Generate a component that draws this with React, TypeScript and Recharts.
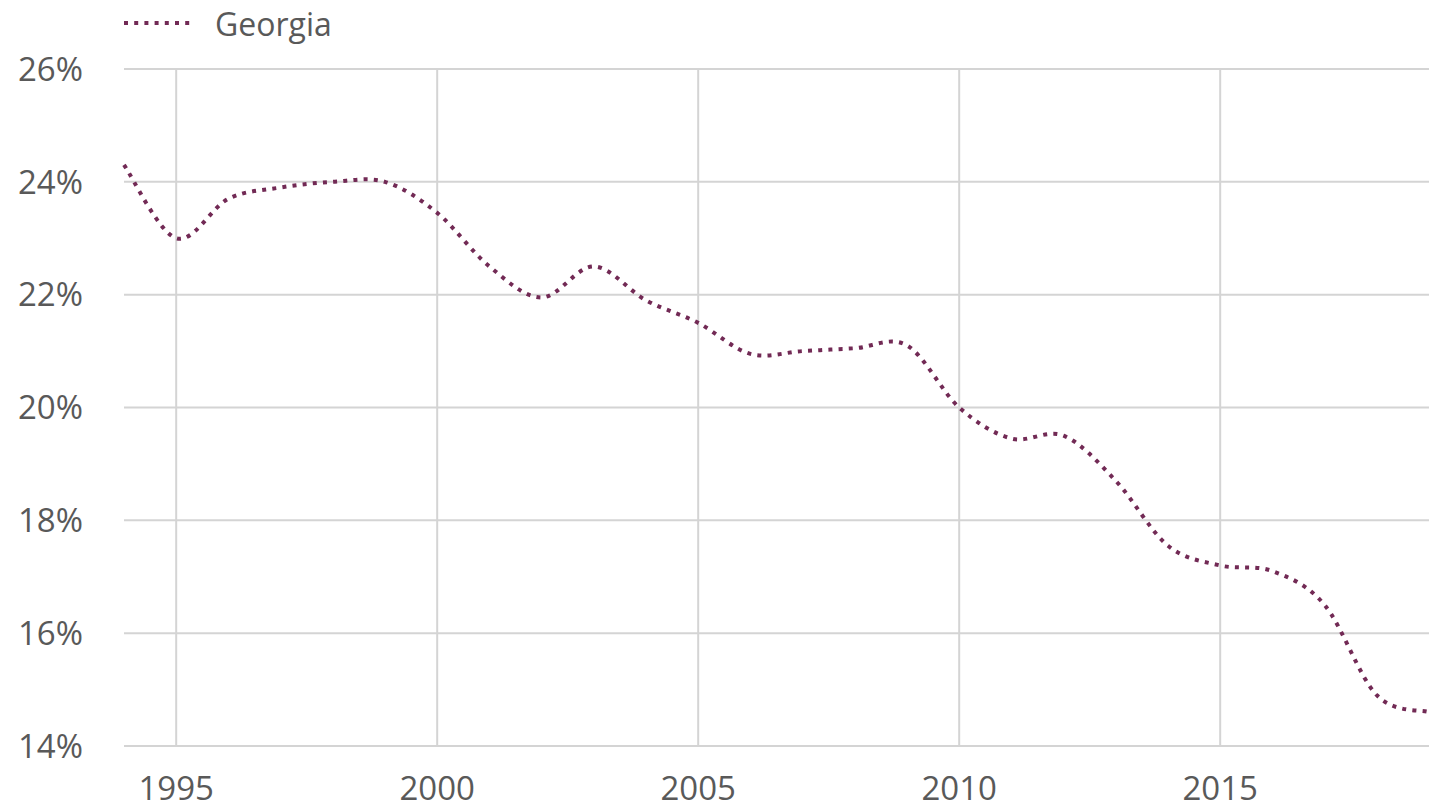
import { LineChart, Line, XAxis, YAxis, Legend, ReferenceLine } from "recharts";

const years = [
  1994, 1995, 1996, 1997, 1998, 1999, 2000, 2001, 2002, 2003, 2004, 2005, 2006,
  2007, 2008, 2009, 2010, 2011, 2012, 2013, 2014, 2015, 2016, 2017, 2018, 2019,
];
const georgia = [
  24.3, 23.0, 23.7, 23.9, 24.0, 24.0, 23.45, 22.5, 21.95, 22.5, 21.9, 21.5, 20.95,
  21.0, 21.05, 21.1, 20.0, 19.45, 19.5, 18.7, 17.55, 17.2, 17.1, 16.5, 14.9, 14.6,
];
const xTicks = [1995, 2000, 2005, 2010, 2015];
const yTicks = [14, 16, 18, 20, 22, 24, 26];

const data = years.map((year, i) => ({ year, georgia: georgia[i] }));

const COLOR = "#722a55";
const GRID = "#d4d4d4";
const FONT = "'Open Sans', sans-serif";
const TEXT = "#595959";

// Catmull-Rom style smoothing, close to the spreadsheet "smoothed line"
function smoothCurve(context: any) {
  let pts: [number, number][] = [];
  return {
    areaStart() {},
    areaEnd() {},
    lineStart() {
      pts = [];
    },
    point(x: number, y: number) {
      pts.push([+x, +y]);
    },
    lineEnd() {
      if (!pts.length) return;
      context.moveTo(pts[0][0], pts[0][1]);
      for (let i = 0; i < pts.length - 1; i++) {
        const p0 = pts[Math.max(i - 1, 0)];
        const p1 = pts[i];
        const p2 = pts[i + 1];
        const p3 = pts[Math.min(i + 2, pts.length - 1)];
        context.bezierCurveTo(
          p1[0] + (p2[0] - p0[0]) / 6,
          p1[1] + (p2[1] - p0[1]) / 6,
          p2[0] - (p3[0] - p1[0]) / 6,
          p2[1] - (p3[1] - p1[1]) / 6,
          p2[0],
          p2[1]
        );
      }
    },
  };
}

function GeorgiaLegend() {
  return (
    <div style={{ height: 40, display: "flex", alignItems: "center", fontFamily: FONT }}>
      <svg width={70} height={10} style={{ marginRight: 22 }}>
        <line x1={1} y1={5} x2={70} y2={5} stroke={COLOR} strokeWidth={4} strokeDasharray="4 6.2" />
      </svg>
      <span style={{ fontSize: 32, color: TEXT }}>Georgia</span>
    </div>
  );
}

export default function App() {
  return (
    <div style={{ position: "absolute", left: 0, top: 0, width: 1429, height: 812, background: "#fff" }}>
      <LineChart width={1429} height={812} data={data} margin={{ top: 29, right: 0, bottom: 0, left: 0 }}>
        {yTicks.map((t) => (
          <ReferenceLine key={`y${t}`} y={t} stroke={GRID} strokeWidth={2} />
        ))}
        {xTicks.map((t) => (
          <ReferenceLine key={`x${t}`} x={t} stroke={GRID} strokeWidth={2} />
        ))}
        <XAxis
          dataKey="year"
          type="number"
          domain={[1994, 2019]}
          ticks={xTicks}
          axisLine={false}
          tickLine={false}
          tickSize={0}
          tickMargin={31}
          height={66}
          tick={{ fontSize: 33, fill: TEXT, fontFamily: FONT }}
        />
        <YAxis
          type="number"
          domain={[14, 26]}
          ticks={yTicks}
          width={124}
          axisLine={false}
          tickLine={false}
          tickSize={0}
          tickMargin={41}
          tickFormatter={(v) => `${v}%`}
          tick={{ fontSize: 33, fill: TEXT, fontFamily: FONT }}
        />
        <Legend
          verticalAlign="top"
          align="left"
          content={<GeorgiaLegend />}
          wrapperStyle={{ left: 123, top: 3 }}
        />
        <Line
          type={smoothCurve as any}
          dataKey="georgia"
          name="Georgia"
          stroke={COLOR}
          strokeWidth={4}
          strokeDasharray="4 6.2"
          dot={false}
          isAnimationActive={false}
        />
      </LineChart>
    </div>
  );
}
